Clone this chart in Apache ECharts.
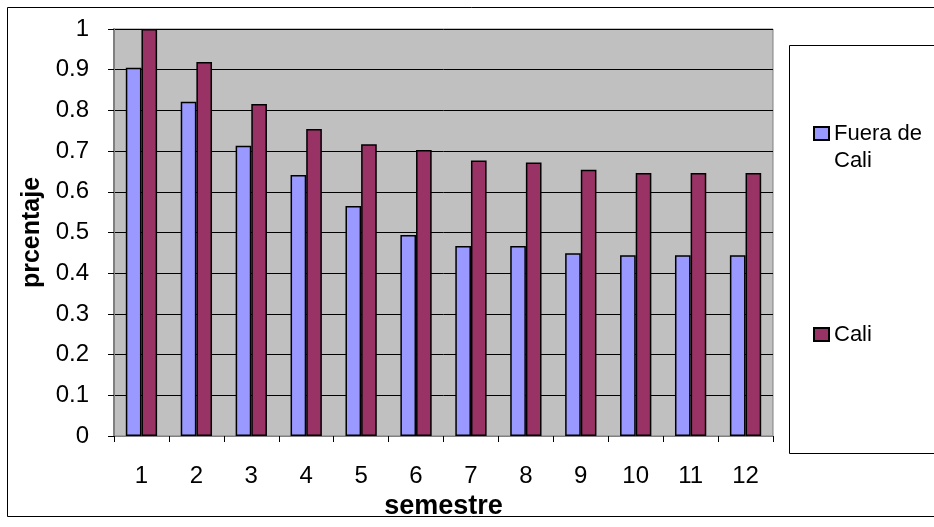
<!DOCTYPE html>
<html><head><meta charset="utf-8">
<script src="https://cdn.jsdelivr.net/npm/echarts@6/dist/echarts.min.js"></script>
<style>html,body{margin:0;padding:0;background:#fff}#c{width:934px;height:527px}</style>
</head><body><div id="c"></div>
<script>
var categories = ['1','2','3','4','5','6','7','8','9','10','11','12'];
var fueraDeCali = [0.905,0.821,0.713,0.641,0.565,0.494,0.467,0.467,0.449,0.444,0.444,0.444];
var cali = [1.0,0.919,0.816,0.754,0.717,0.703,0.677,0.672,0.654,0.646,0.646,0.646];
var seriesNames = ['Fuera de Cali','Cali'];

var chart = echarts.init(document.getElementById('c'));
var font = 'Arial, "Liberation Sans", sans-serif';
chart.setOption({
  animation: false,
  backgroundColor: '#fff',
  graphic: [
    {type:'rect', shape:{x:7.5,y:7.5,width:940,height:509}, style:{fill:'none',stroke:'#000',lineWidth:1}, z:-1},
    {type:'rect', shape:{x:789.5,y:45.5,width:160,height:408}, style:{fill:'#fff',stroke:'#000',lineWidth:1}, z:-1}
  ],
  grid: {left:114, top:29, right:161, bottom:91, show:true, backgroundColor:'#C0C0C0', borderColor:'#808080', borderWidth:1},
  legend: [
    {data:[seriesNames[0]], left:808, top:88, orient:'vertical', itemWidth:15, itemHeight:13,
     formatter:function(){return ' \nFuera de\nCali';},
     textStyle:{fontFamily:font, fontSize:22, color:'#000', lineHeight:27}, icon:'rect'},
    {data:[seriesNames[1]], left:808, top:316, orient:'vertical', itemWidth:15, itemHeight:13,
     textStyle:{fontFamily:font, fontSize:22, color:'#000', lineHeight:27}, icon:'rect'}
  ],
  xAxis: {
    type:'category', data:categories,
    name:'semestre', nameLocation:'middle', nameGap:56,
    nameTextStyle:{fontFamily:font, fontSize:27, fontWeight:'bold', color:'#000'},
    axisLine:{lineStyle:{color:'#808080', width:1}},
    axisTick:{show:true, length:6, lineStyle:{color:'#000'}},
    axisLabel:{fontFamily:font, fontSize:24, color:'#000', margin:28}
  },
  yAxis: {
    type:'value', min:0, max:1, interval:0.1,
    name:'prcentaje', nameLocation:'middle', nameGap:68,
    nameTextStyle:{fontFamily:font, fontSize:25, fontWeight:'bold', color:'#000'},
    axisLine:{show:true, lineStyle:{color:'#808080', width:2}},
    axisTick:{show:true, length:6, lineStyle:{color:'#000'}},
    axisLabel:{fontFamily:font, fontSize:24, color:'#000', margin:25,
      formatter:function(v){return String(Math.round(v*10)/10);}},
    splitLine:{show:true, lineStyle:{color:'#000', width:1}}
  },
  series: [
    {name:seriesNames[0], type:'bar', data:fueraDeCali, barGap:'0%', barCategoryGap:'43%',
     itemStyle:{color:'#9999FF', borderColor:'#000', borderWidth:1.5}},
    {name:seriesNames[1], type:'bar', data:cali, barGap:'0%', barCategoryGap:'43%',
     itemStyle:{color:'#993366', borderColor:'#000', borderWidth:1.5}}
  ]
});
</script></body></html>
